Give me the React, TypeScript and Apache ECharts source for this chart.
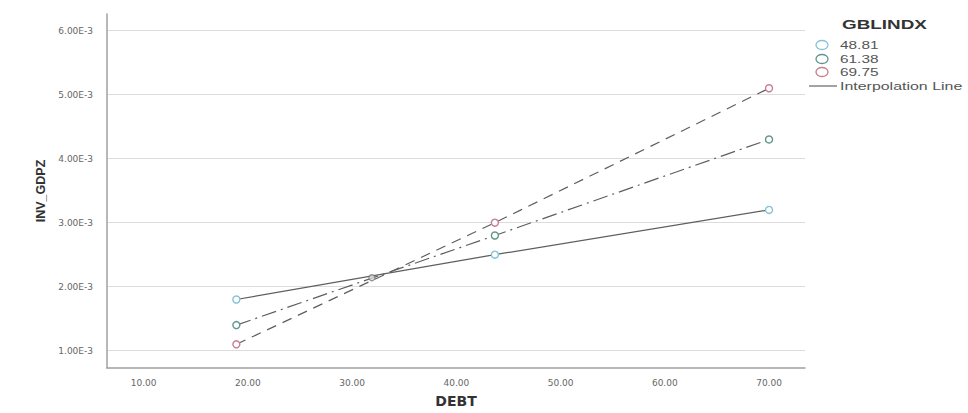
import React, { useEffect, useRef } from "react";
import * as echarts from "echarts";

const debt = [18.9, 43.7, 70];
const groupNames = ["48.81", "61.38", "69.75"];
const inv4881 = [0.0018, 0.0025, 0.0032];
const inv6138 = [0.0014, 0.0028, 0.0043];
const inv6975 = [0.0011, 0.003, 0.0051];
const crossPoint = [[31.9, 0.00214]];
const xTicks = [10, 20, 30, 40, 50, 60, 70];
const yTicks = [0.001, 0.002, 0.003, 0.004, 0.005, 0.006];
const legendTitle = "GBLINDX";
const interpLabel = "Interpolation Line";

const markerColors = ["#86c3d6", "#5f968c", "#c57e92"];
const dashTypes: any[] = ["solid", [15, 5, 2, 5], [10, 7]];
const seriesValues = [inv4881, inv6138, inv6975];

export default function App() {
  const ref = useRef<HTMLDivElement>(null);
  useEffect(() => {
    document.body.style.margin = "0";
    if (!ref.current) return;
    const chart = echarts.init(ref.current, undefined, { renderer: "svg" });
    const series: any[] = seriesValues.map((vals, i) => ({
      name: groupNames[i],
      type: "line",
      data: debt.map((d, j) => [d, vals[j]]),
      symbol: "circle",
      symbolSize: 7,
      showSymbol: true,
      lineStyle: { color: "#5e5e5e", width: 1.2, type: dashTypes[i] },
      itemStyle: { color: "#ffffff", borderColor: markerColors[i], borderWidth: 1.4 },
      z: 3,
    }));
    series.push({
      name: "cross",
      type: "scatter",
      data: crossPoint,
      symbol: "circle",
      symbolSize: 6,
      itemStyle: { color: "#d8d8d8", borderColor: "#777", borderWidth: 1.2 },
      z: 4,
    });

    const legendX = 822;
    const legendYs = [45, 59, 72];
    const legendEls: any[] = [
      {
        type: "text",
        x: 842,
        y: 18,
        scaleX: 1.45,
        style: {
          text: legendTitle,
          fontFamily: "Liberation Sans",
          fontWeight: "bold",
          fontSize: 13,
          fill: "#333",
        },
      },
    ];
    groupNames.forEach((n, i) => {
      legendEls.push({
        type: "ellipse",
        shape: { cx: legendX, cy: legendYs[i], rx: 6, ry: 4.5 },
        style: { fill: "#fff", stroke: markerColors[i], lineWidth: 1.3 },
      });
      legendEls.push({
        type: "text",
        x: 840,
        y: legendYs[i],
        scaleX: 1.4,
        style: {
          text: n,
          fontFamily: "Liberation Sans",
          fontSize: 11,
          fill: "#555",
          verticalAlign: "middle",
        },
      });
    });
    legendEls.push({
      type: "line",
      shape: { x1: 809, y1: 86, x2: 837, y2: 86 },
      style: { stroke: "#666", lineWidth: 1.2 },
    });
    legendEls.push({
      type: "text",
      x: 840,
      y: 86,
      scaleX: 1.45,
      style: {
        text: interpLabel,
        fontFamily: "Liberation Sans",
        fontSize: 11,
        fill: "#555",
        verticalAlign: "middle",
      },
    });

    chart.setOption({
      animation: false,
      backgroundColor: "#ffffff",
      grid: { left: 107, right: 163, top: 14, bottom: 40 },
      xAxis: {
        type: "value",
        min: 6.49,
        max: 73.45,
        name: "DEBT",
        nameLocation: "middle",
        nameGap: 26,
        nameTextStyle: {
          fontFamily: "DejaVu Sans",
          fontWeight: "bold",
          fontSize: 14,
          color: "#333",
          verticalAlign: "top",
        },
        axisLine: { show: true, onZero: false, lineStyle: { color: "#a0a0a0", width: 1.5 } },
        axisTick: { show: false, customValues: xTicks },
        axisLabel: {
          customValues: xTicks,
          margin: 10,
          fontFamily: "DejaVu Sans",
          fontSize: 9,
          color: "#666",
          formatter: (v: number) => v.toFixed(2),
        },
        splitLine: { show: false },
      },
      yAxis: {
        type: "value",
        min: 0.00073,
        max: 0.00626,
        name: "INV_GDPZ",
        nameLocation: "middle",
        nameGap: 60,
        nameTextStyle: {
          fontFamily: "Liberation Sans",
          fontWeight: "bold",
          fontSize: 12.5,
          color: "#333",
        },
        axisLine: { show: true, onZero: false, lineStyle: { color: "#a0a0a0", width: 1.5 } },
        axisTick: { show: false, customValues: yTicks },
        axisLabel: {
          customValues: yTicks,
          margin: 14,
          fontFamily: "DejaVu Sans",
          fontSize: 9,
          color: "#666",
          formatter: (v: number) => (v * 1000).toFixed(2) + "E-3",
        },
        splitLine: { show: true, lineStyle: { color: "#dcdcdc", width: 1 } },
      },
      series,
      graphic: legendEls,
    });
    return () => chart.dispose();
  }, []);
  return <div ref={ref} style={{ width: 968, height: 413 }} />;
}
